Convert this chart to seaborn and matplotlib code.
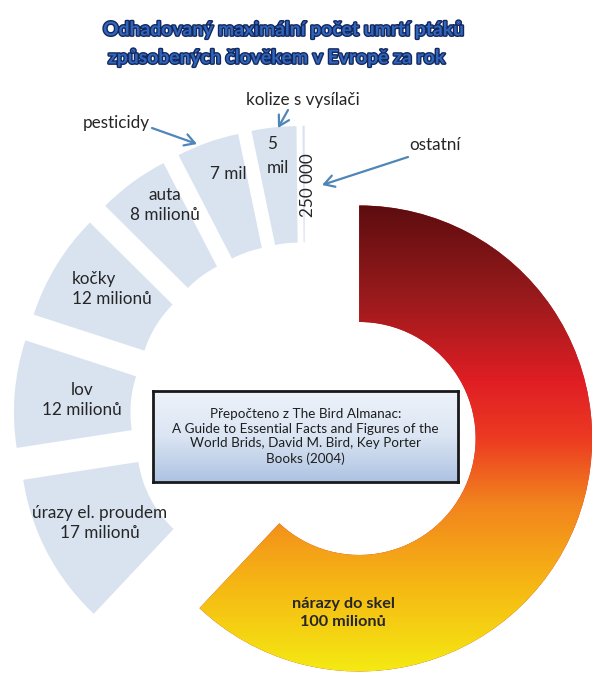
import numpy as np
import matplotlib
matplotlib.use("Agg")
import matplotlib.pyplot as plt
import seaborn as sns
from matplotlib import patheffects as pe
from matplotlib.colors import LinearSegmentedColormap

# ---- data (millions of birds per year) ----
categories = ["nárazy do skel", "úrazy el. proudem", "lov", "kočky", "auta",
              "pesticidy", "kolize s vysílači", "ostatní"]
values_mil = [100, 17, 12, 12, 8, 7, 5, 0.25]
value_labels = ["100 milionů", "17 milionů", "12 milionů", "12 milionů",
                "8 milionů", "7 mil", "5\nmil", "250 000"]
title_lines = ["Odhadovaný maximální počet umrtí ptáků",
               "způsobených člověkem v Evropě za rok"]
source_text = ("Přepočteno z The Bird Almanac:\n"
               "A Guide to Essential Facts and Figures of the\n"
               "World Brids, David M. Bird, Key Porter\n"
               "Books (2004)")

W, H = 592, 678
sns.set_theme(style="white")
plt.rcParams['font.family'] = ['Lato', 'DejaVu Sans']

fig = plt.figure(figsize=(W / 100, H / 100), dpi=100)
fig.patch.set_facecolor("white")
ax = fig.add_axes([0, 0, 1, 1])

blue = "#d9e3f0"
colors = ["#d0202a"] + [blue] * (len(values_mil) - 1)
wedges, _ = ax.pie(values_mil, startangle=90, counterclock=False,
                   explode=[0.25] * len(values_mil), radius=1.0, colors=colors,
                   wedgeprops=dict(width=0.5, edgecolor="none", linewidth=0))

# gradient fill for the big wedge
grad_cmap = LinearSegmentedColormap.from_list("g", [
    (0.00, "#5a0c0e"), (0.20, "#981a1c"), (0.38, "#e01e24"),
    (0.50, "#ec3a22"), (0.64, "#f2841e"), (0.80, "#f6b414"), (1.00, "#f4ec12")])
big = wedges[0]
cxr, cyr = big.center
grad = np.linspace(0, 1, 400).reshape(-1, 1)
im = ax.imshow(grad, cmap=grad_cmap, aspect="auto", origin="upper",
               extent=[cxr - 1.02, cxr + 1.02, cyr - 1.02, cyr + 1.02], zorder=3,
               interpolation="bilinear")
im.set_clip_path(big)

# axis limits: 1 data unit = 233 px, common centre at pixel (305, 417)
S, CX, CY = 233.0, 305.0, 417.0
ax.set_xlim(-CX / S, (W - CX) / S)
ax.set_ylim(-(H - CY) / S, CY / S)
ax.set_aspect("auto")
ax.axis("off")


def fx(x):
    return x / W


def fy(y):
    return 1 - y / H


txt = "#262626"
lab_fs = 12.3
# labels on the wedges
fig.text(fx(343), fy(613), categories[0] + "\n" + value_labels[0], ha="center", va="center",
         fontsize=11.7, fontweight="bold", color=txt, linespacing=1.45)
fig.text(fx(100), fy(523), categories[1] + "\n" + value_labels[1], ha="center", va="center",
         fontsize=lab_fs, color=txt, linespacing=1.3)
fig.text(fx(82), fy(400), categories[2] + "\n" + value_labels[2], ha="center", va="center",
         fontsize=lab_fs, color=txt, linespacing=1.3)
fig.text(fx(72), fy(289), categories[3] + "\n" + value_labels[3], ha="left", va="center",
         fontsize=lab_fs, color=txt, linespacing=1.3, multialignment="left")
fig.text(fx(165), fy(205), categories[4] + "\n" + value_labels[4], ha="center", va="center",
         fontsize=lab_fs, color=txt, linespacing=1.3)
fig.text(fx(228), fy(174), value_labels[5], ha="center", va="center",
         fontsize=lab_fs, color=txt)
fig.text(fx(267), fy(156), value_labels[6], ha="left", va="center",
         fontsize=lab_fs, color=txt, linespacing=1.6, multialignment="left")
fig.text(fx(308), fy(185), value_labels[7], ha="center", va="center", rotation=90,
         fontsize=lab_fs, color=txt)

# outside labels with arrows
fig.text(fx(116), fy(123), categories[5], ha="center", va="center", fontsize=lab_fs, color=txt)
fig.text(fx(303), fy(100), categories[6], ha="center", va="center", fontsize=lab_fs, color=txt)
fig.text(fx(435), fy(145), categories[7], ha="center", va="center", fontsize=lab_fs, color=txt)

arrow_c = "#4f86b8"
for (x0, y0), (x1, y1) in [((152, 128), (197, 144)),
                           ((288, 110), (278, 128)),
                           ((408, 157), (322, 185))]:
    ax.annotate("", xy=(x1, H - y1), xycoords="figure pixels",
                xytext=(x0, H - y0), textcoords="figure pixels",
                arrowprops=dict(arrowstyle="->,head_length=0.6,head_width=0.35",
                                color=arrow_c, lw=1.6, shrinkA=0, shrinkB=0))

# title
for i, (line, x0, y0) in enumerate(zip(title_lines, [103, 108], [30, 58])):
    fig.text(fx(x0), fy(y0), line, ha="left", va="center", fontsize=13.9,
             fontweight="bold", color="#2f66bc",
             path_effects=[pe.withStroke(linewidth=2.0, foreground="#15285e")])

# source box
bx0, by0, bx1, by1 = 153, 391, 458, 482
bax = fig.add_axes([fx(bx0), fy(by1), (bx1 - bx0) / W, (by1 - by0) / H])
box_cmap = LinearSegmentedColormap.from_list("b", ["#eef3fa", "#dbe5f3", "#adc3e2"])
bax.imshow(np.linspace(0, 1, 100).reshape(-1, 1), cmap=box_cmap, aspect="auto",
           origin="upper", extent=[0, 1, 0, 1])
bax.set_xlim(0, 1)
bax.set_ylim(0, 1)
bax.set_xticks([])
bax.set_yticks([])
for sp in bax.spines.values():
    sp.set_visible(True)
    sp.set_color("#1a1a1a")
    sp.set_linewidth(2)
bax.text(0.5, 0.5, source_text, ha="center", va="center", fontsize=9.7,
         color="#1e1e1e", linespacing=1.25, transform=bax.transAxes)

fig.savefig("out.png", dpi=100, facecolor="white")
